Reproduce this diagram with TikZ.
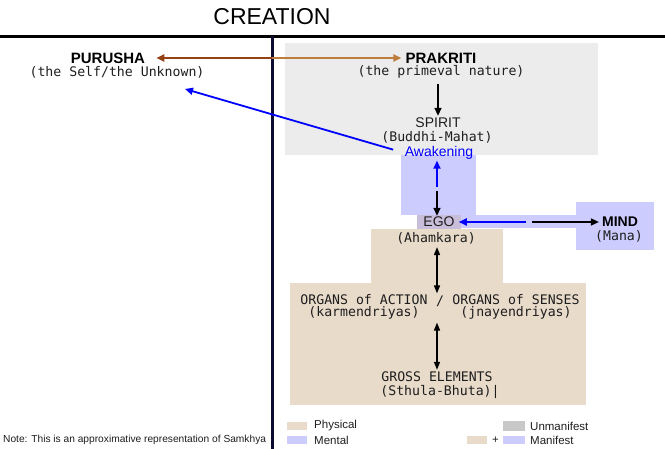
\documentclass[tikz,border=0pt]{standalone}
\usepackage{fontspec}
\setmainfont{Liberation Sans}
\setmonofont{DejaVu Sans Mono}
\usetikzlibrary{arrows.meta}

\definecolor{unmanifest}{RGB}{236,236,236}
\definecolor{unmanifestkey}{RGB}{200,200,200}
\definecolor{physical}{RGB}{232,219,202}
\definecolor{mental}{RGB}{204,204,255}
\definecolor{egobox}{RGB}{200,190,218}
\definecolor{darkbrown}{RGB}{150,65,20}
\definecolor{lightbrown}{RGB}{190,125,60}
\definecolor{navyline}{RGB}{10,10,50}
\definecolor{textgray}{RGB}{30,30,30}

\tikzset{
  heading/.style={inner sep=0pt, font=\fontsize{15}{15}\selectfont\bfseries},
  plainlabel/.style={inner sep=0pt, text=textgray, font=\fontsize{14}{14}\selectfont},
  mono/.style={inner sep=0pt, text=textgray, font=\fontsize{13.2}{12}\selectfont\ttfamily},
  keytext/.style={anchor=west, inner sep=0pt, text=textgray, font=\fontsize{11.5}{11.5}\selectfont},
  tip/.style={-{Triangle[length=8pt,width=7pt]}},
  dbltip/.style={{Triangle[length=8pt,width=6pt]}-{Triangle[length=8pt,width=6pt]}},
  blkarrow/.style={tip, black, line width=1.5pt},
  bluearrow/.style={tip, blue, line width=1.8pt},
}

\begin{document}
\begin{tikzpicture}[x=1pt, y=-1pt]
        \useasboundingbox (0,0) rectangle (665,449);

        % Coloured areas
        \fill[unmanifest] (285,43) rectangle (598,155);
        \fill[mental] (401,155) rectangle (476,215);
        \fill[mental] (461,215) rectangle (576,228);
        \fill[mental] (576,202) rectangle (654,250);
        \fill[egobox] (417,215) rectangle (461,229);
        \fill[physical] (371,229) rectangle (503,283);
        \fill[physical] (290,283) rectangle (586,405);

        % Frame
        \node[font=\fontsize{23}{23}\selectfont] (creation) at (272,17) {CREATION};
        \draw[line width=3.5pt] (0,36.5) -- (665,36.5);
        \draw[navyline, line width=3pt] (272.5,36.5) -- (272.5,449);

        % Purusha / Prakriti
        \node[heading] (purusha) at (108,58) {PURUSHA};
        \node[mono] (purushasub) at (117,72) {(the Self/the Unknown)};
        \node[heading] (prakriti) at (441,58) {PRAKRITI};
        \node[mono] (prakritisub) at (441,72) {(the primeval nature)};
        \coordinate (bridge) at (272,58);
        \draw[tip, darkbrown, line width=2pt, shorten >=11pt] (bridge) -- (purusha);
        \draw[tip, lightbrown, line width=2pt, shorten >=4pt] (bridge) -- (prakriti);

        % Spirit
        \node[plainlabel] (spirit) at (438,123) {SPIRIT};
        \node[mono] (spiritsub) at (437,137) {(Buddhi-Mahat)};
        \node[plainlabel, text=blue] (awake) at (439,153) {Awakening};
        \draw[blkarrow, shorten <=5pt, shorten >=2pt] (prakritisub.south -| spirit.north) -- (spirit.north);

        % Back to Purusha
        \coordinate (pointer) at (185,89);
        \draw[bluearrow, shorten <=12pt] (awake.west) -- (pointer);

        % Ego
        \node[plainlabel] (ego) at (439,222) {EGO};
        \node[mono] (ahamkara) at (436,238) {(Ahamkara)};
        \coordinate (upstart) at (437,187);
        \coordinate (downstart) at (437,191);
        \draw[bluearrow, shorten >=1pt] (upstart) -- (awake.south -| upstart);
        \draw[blkarrow, shorten >=1pt] (downstart) -- (ego.north -| downstart);

        % Mind
        \node[heading, font=\fontsize{14}{14}\selectfont\bfseries] (mind) at (620,222) {MIND};
        \node[mono] (mana) at (619,236) {(Mana)};
        \coordinate (leftstart) at (526,222);
        \coordinate (rightstart) at (532,222);
        \draw[bluearrow, shorten >=4pt] (leftstart) -- (ego.east);
        \draw[blkarrow, shorten >=3pt] (rightstart) -- (mind.west);

        % Organs and elements
        \node[mono, align=center] (action) at (364,307) {ORGANS of ACTION\\(karmendriyas)};
        \node[mono] (slash) at (440,301) {/};
        \node[mono, align=center] (senses) at (516,307) {ORGANS of SENSES\\(jnayendriyas)};
        \node[mono] (gross) at (437,377) {GROSS ELEMENTS};
        \node[mono] (sthula) at (440,392) {(Sthula-Bhuta)|};
        \draw[dbltip, line width=1.5pt, shorten <=3pt, shorten >=2pt] (ahamkara.south -| gross.north) -- (slash.north -| gross.north);
        \draw[dbltip, line width=1.5pt, shorten <=3pt, shorten >=2pt] (action.south -| gross.north) -- (gross.north);

        % Legend
        \fill[physical] (287,422) rectangle (307,430);
        \node[keytext] (physkey) at (314,426) {Physical};
        \fill[mental] (287,436) rectangle (307,444);
        \node[keytext] (mentkey) at (314,440) {Mental};
        \fill[unmanifestkey] (503,421) rectangle (525,431);
        \node[keytext] (unmkey) at (530,426) {Unmanifest};
        \fill[physical] (467,436) rectangle (487,444);
        \node[keytext] (plus) at (492,440) {+};
        \fill[mental] (503,436) rectangle (525,444);
        \node[keytext] (mankey) at (530,440) {Manifest};

        \node[anchor=west, inner sep=0pt, text=textgray, font=\fontsize{10.2}{10.2}\selectfont] (note) at (3,440) {Note: This is an approximative representation of Samkhya};
\end{tikzpicture}
\end{document}
